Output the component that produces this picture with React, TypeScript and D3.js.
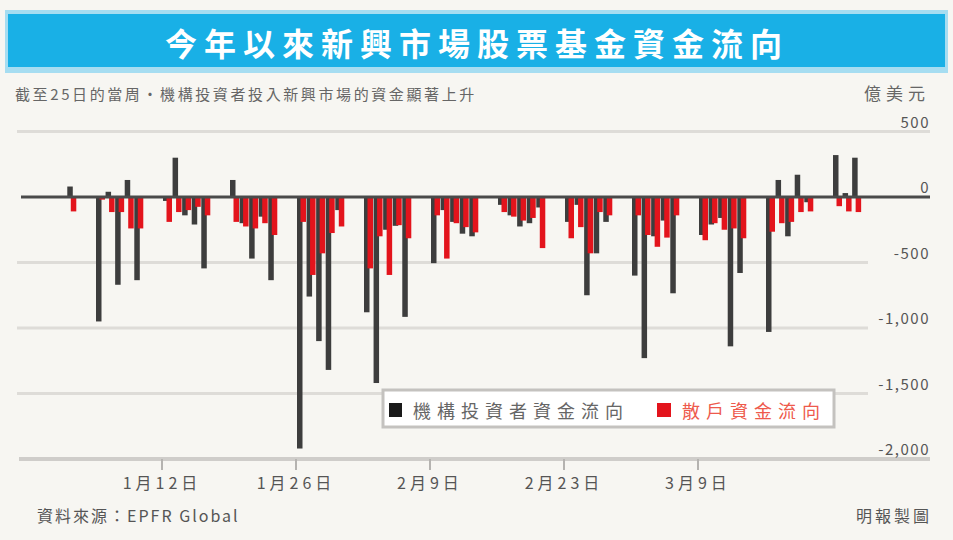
import React from "react";
import * as d3 from "d3";

const TITLE = "今年以來新興市場股票基金資金流向";
const SUBTITLE = "截至25日的當周・機構投資者投入新興市場的資金顯著上升";
const UNIT = "億美元";
const SOURCE = "資料來源：EPFR Global";
const CREDIT = "明報製圖";
const LEGEND_INST = "機構投資者資金流向";
const LEGEND_RETAIL = "散戶資金流向";

const dates = [
  "2015-01-02",
  "2015-01-05", "2015-01-06", "2015-01-07", "2015-01-08", "2015-01-09",
  "2015-01-12", "2015-01-13", "2015-01-14", "2015-01-15", "2015-01-16",
  "2015-01-19", "2015-01-20", "2015-01-21", "2015-01-22", "2015-01-23",
  "2015-01-26", "2015-01-27", "2015-01-28", "2015-01-29", "2015-01-30",
  "2015-02-02", "2015-02-03", "2015-02-04", "2015-02-05", "2015-02-06",
  "2015-02-09", "2015-02-10", "2015-02-11", "2015-02-12", "2015-02-13",
  "2015-02-16", "2015-02-17", "2015-02-18", "2015-02-19", "2015-02-20",
  "2015-02-23", "2015-02-24", "2015-02-25", "2015-02-26", "2015-02-27",
  "2015-03-02", "2015-03-03", "2015-03-04", "2015-03-05", "2015-03-06",
  "2015-03-09", "2015-03-10", "2015-03-11", "2015-03-12", "2015-03-13",
  "2015-03-16", "2015-03-17", "2015-03-18", "2015-03-19", "2015-03-20",
  "2015-03-23", "2015-03-24", "2015-03-25",
];

const institutional = [
  80,
  -950, 40, -670, 130, -635,
  -30, 300, -140, -210, -545,
  130, -200, -470, -150, -635,
  -1920, -760, -1100, -1320, -100,
  -880, -1420, -250, -220, -915,
  -505, -100, -190, -280, -300,
  -60, -140, -225, -200, -80,
  -190, -60, -750, -430, -190,
  -600, -1230, -300, -180, -735,
  -290, -210, -160, -1140, -580,
  -1030, 130, -300, 170, -40,
  320, 30, 300,
];

const retail = [
  -110,
  -20, -115, -115, -240, -240,
  -190, -115, -100, -75, -140,
  -190, -225, -240, -200, -290,
  -190, -595, -430, -275, -225,
  -545, -300, -595, -215, -315,
  -140, -470, -200, -230, -270,
  -115, -150, -180, -160, -390,
  -315, -230, -430, -115, -140,
  -140, -290, -380, -310, -140,
  -330, -200, -250, -240, -315,
  -265, -200, -190, -115, -110,
  -70, -110, -115,
];

const yTicks = [500, 0, -500, -1000, -1500, -2000];
const xTickDates = ["2015-01-12", "2015-01-26", "2015-02-09", "2015-02-23", "2015-03-09"];
const xTickLabels = ["1月12日", "1月26日", "2月9日", "2月23日", "3月9日"];

const W = 953;
const H = 540;
const FONT = "'Noto Sans CJK TC', 'Noto Sans CJK SC', sans-serif";

export default function App() {
  const parse = d3.timeParse("%Y-%m-%d");
  const x = d3
    .scaleTime()
    .domain([parse("2015-01-12")!, parse("2015-03-09")!])
    .range([162, 698]);
  const y = d3.scaleLinear().domain([-2000, 500]).range([459, 131.5]);
  const fmt = d3.format(",");

  const rows = dates.map((d, i) => ({
    date: parse(d)!,
    inst: institutional[i],
    ret: retail[i],
  }));

  const plotLeft = 19;
  const plotRight = 930;

  return (
    <svg
      width={W}
      height={H}
      style={{ position: "absolute", left: 0, top: 0, display: "block" }}
      fontFamily={FONT}
    >
      <rect x={0} y={0} width={W} height={H} fill="#f7f6f2" />
      {/* title banner */}
      <rect x={5} y={10} width={943} height={63} fill="#a6ddf1" />
      <rect x={8} y={14} width={937} height={53} fill="#19b0e6" />
      <text
        x={477}
        y={42}
        textAnchor="middle"
        dominantBaseline="central"
        fill="#ffffff"
        fontSize={32}
        fontWeight="bold"
        letterSpacing={7}
      >
        {TITLE}
      </text>
      {/* subtitle and unit */}
      <text x={15} y={100} fill="#666" fontSize={15} letterSpacing={2.6}>
        {SUBTITLE}
      </text>
      <text x={930} y={100} textAnchor="end" fill="#666" fontSize={17} letterSpacing={5}>
        {UNIT}
      </text>

      {/* gridlines */}
      {yTicks
        .filter((t) => t !== 0 && t !== -2000)
        .map((t) => (
          <line
            key={"g" + t}
            x1={17}
            x2={t === 500 ? plotRight : 868}
            y1={y(t)}
            y2={y(t)}
            stroke="#dedcd8"
            strokeWidth={3}
          />
        ))}
      {/* bottom axis */}
      <line x1={plotLeft} x2={plotRight} y1={459} y2={459} stroke="#cfcdca" strokeWidth={4} />
      {xTickDates.map((d) => (
        <line
          key={"t" + d}
          x1={x(parse(d)!)}
          x2={x(parse(d)!)}
          y1={459}
          y2={470}
          stroke="#b5b3b0"
          strokeWidth={2}
        />
      ))}
      {xTickDates.map((d, i) => (
        <text
          key={"xl" + d}
          x={x(parse(d)!)}
          y={489}
          textAnchor="middle"
          fill="#555"
          fontSize={16}
          letterSpacing={4}
        >
          {xTickLabels[i]}
        </text>
      ))}

      {/* y tick labels */}
      {yTicks.map((t) => (
        <text
          key={"yl" + t}
          x={plotRight}
          y={y(t) - 4}
          textAnchor="end"
          fill="#555"
          fontSize={15}
          letterSpacing={1.5}
        >
          {fmt(t).replace("−", "-")}
        </text>
      ))}

      {/* institutional bars */}
      {rows.map((r, i) => (
        <rect
          key={"i" + i}
          x={x(r.date) + 1}
          width={5.5}
          y={y(Math.max(0, r.inst))}
          height={Math.abs(y(r.inst) - y(0))}
          fill="#3d3d3d"
        />
      ))}
      {/* retail bars */}
      {rows.map((r, i) => (
        <rect
          key={"r" + i}
          x={x(r.date) + 4.5}
          width={5.5}
          y={y(Math.max(0, r.ret))}
          height={Math.abs(y(r.ret) - y(0))}
          fill="#e3141c"
        />
      ))}
      {/* zero line */}
      <line x1={21} x2={plotRight} y1={y(0)} y2={y(0)} stroke="#4a4a4a" strokeWidth={3} />

      {/* legend */}
      <rect x={383} y={390} width={451} height={37} fill="#ffffff" stroke="#c4c2bf" strokeWidth={3} />
      <rect x={389} y={403} width={13} height={14} fill="#1a1a1a" />
      <text x={413} y={410} dominantBaseline="central" fill="#666" fontSize={18} letterSpacing={6}>
        {LEGEND_INST}
      </text>
      <rect x={657} y={403} width={14} height={14} fill="#e3141c" />
      <text x={682} y={410} dominantBaseline="central" fill="#ee5a4c" fontSize={18} letterSpacing={6}>
        {LEGEND_RETAIL}
      </text>

      {/* footer */}
      <text x={37} y={522} fill="#555" fontSize={16} letterSpacing={2}>
        {SOURCE}
      </text>
      <text x={932} y={522} textAnchor="end" fill="#555" fontSize={16} letterSpacing={3}>
        {CREDIT}
      </text>
    </svg>
  );
}
